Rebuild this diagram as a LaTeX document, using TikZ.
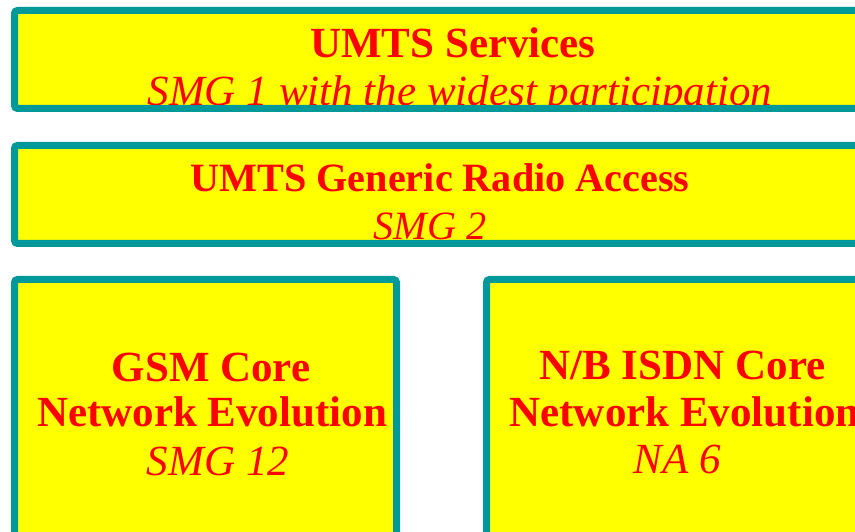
\documentclass[tikz,border=0pt]{standalone}
\usepackage{fontspec}
\setmainfont{Liberation Serif}
\usepackage{tikz}
\usetikzlibrary{positioning,calc}
\definecolor{frameColor}{RGB}{0,153,153}
\definecolor{boxYellow}{RGB}{255,255,0}
\definecolor{textRed}{RGB}{255,0,0}
\tikzset{
    groupbox/.style={
        draw=frameColor,
        line width=7pt,
        fill=boxYellow,
        rounded corners=3pt,
        inner sep=0pt
    },
    grpTitle/.style={
        text=textRed,
        font=\fontsize{43}{46}\selectfont\bfseries,
        anchor=base,
        inner sep=0pt
    },
    grpSub/.style={
        text=textRed,
        font=\fontsize{43}{46}\selectfont\itshape,
        anchor=base,
        inner sep=0pt
    },
    smallTitle/.style={
        grpTitle,
        font=\fontsize{40.2}{44}\selectfont\bfseries
    },
    smallSub/.style={
        grpSub,
        font=\fontsize{40.2}{44}\selectfont\itshape
    }
}

\begin{document}
\begin{tikzpicture}
                \useasboundingbox (0,0) rectangle (855pt,531pt);
                % 1. Khung Services
                \node[groupbox, minimum width=877pt, minimum height=98pt] (svc) at (453pt,471.5pt) {};
                \node[grpTitle] (svcT) at (453pt,473.3pt) {UMTS Services};
                \begin{scope}
                    \clip ($(svc.south west)+(7pt,7pt)$) rectangle ($(svc.north east)-(7pt,7pt)$);
                    \node[grpSub] (svcS) at (460pt,425.5pt) {SMG 1 with the widest participation};
                \end{scope}
                
                % 2. Khung Radio Access
                \node[groupbox, minimum width=877pt, minimum height=98pt] (gra) at (453pt,336.5pt) {};
                \node[smallTitle] (graT) at (440pt,339.3pt) {UMTS Generic Radio Access};
                \begin{scope}
                    \clip ($(gra.south west)+(7pt,7pt)$) rectangle ($(gra.north east)-(7pt,7pt)$);
                    \node[smallSub] (graS) at (430pt,291.5pt) {SMG 2};
                \end{scope}
                
                % 3. Hai khung Core Network
                \node[groupbox, minimum width=382pt, minimum height=300pt] (gsm) at (205.5pt,101.5pt) {};
                \node[grpTitle] (gsmT) at (211pt,149.3pt) {GSM Core};
                \node[grpTitle] (gsmN) at (212pt,104.3pt) {Network Evolution};
                \node[grpSub] (gsmS) at (218pt,56pt) {SMG 12};
                
                \node[groupbox, minimum width=382pt, minimum height=300pt] (isdn) at (677.5pt,101.5pt) {};
                \node[grpTitle] (isdnT) at (682.5pt,151pt) {N/B ISDN Core};
                \node[grpTitle] (isdnN) at (684.5pt,104.3pt) {Network Evolution};
                \node[grpSub] (isdnS) at (677pt,58pt) {NA 6};
            \end{tikzpicture}
\end{document}
